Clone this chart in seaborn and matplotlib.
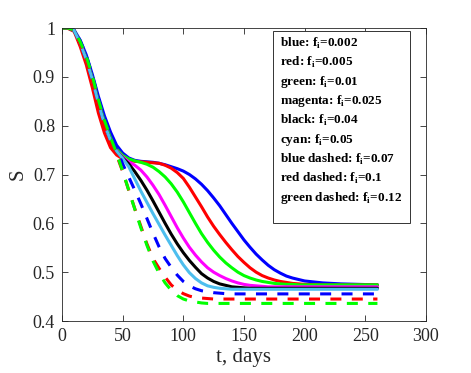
import matplotlib
matplotlib.use("Agg")
import matplotlib.pyplot as plt
import matplotlib.patches as mpatches
import seaborn as sns

# ---------------------------------------------------------------------------
# Data
# ---------------------------------------------------------------------------
t_days = [0, 5, 10, 15, 20, 25, 30, 35, 40, 45,
          50, 55, 60, 65, 70, 75, 80, 85, 90, 95,
          100, 105, 110, 115, 120, 125, 130, 135, 140, 145,
          150, 155, 160, 165, 170, 175, 180, 185, 190, 195,
          200, 215, 230, 245, 260]

s_blue = [1.000, 1.000, 0.996, 0.975, 0.945, 0.905, 0.860, 0.820, 0.787, 0.760,
          0.744, 0.734, 0.729, 0.727, 0.726, 0.725, 0.723, 0.720, 0.716, 0.712,
          0.707, 0.700, 0.691, 0.680, 0.667, 0.652, 0.636, 0.618, 0.600, 0.583,
          0.566, 0.551, 0.537, 0.525, 0.514, 0.505, 0.498, 0.492, 0.488, 0.485,
          0.482, 0.478, 0.476, 0.475, 0.474]
s_red = [1.000, 0.999, 0.993, 0.962, 0.925, 0.878, 0.826, 0.785, 0.755, 0.740,
         0.732, 0.729, 0.727, 0.726, 0.725, 0.724, 0.723, 0.719, 0.713, 0.704,
         0.692, 0.674, 0.654, 0.634, 0.613, 0.594, 0.577, 0.561, 0.546, 0.532,
         0.520, 0.509, 0.500, 0.493, 0.488, 0.484, 0.481, 0.479, 0.477, 0.476,
         0.475, 0.474, 0.474, 0.474, 0.474]
s_green = [1.000, 1.000, 0.995, 0.970, 0.938, 0.898, 0.850, 0.808, 0.775, 0.752,
           0.739, 0.732, 0.728, 0.725, 0.721, 0.715, 0.706, 0.695, 0.681, 0.664,
           0.644, 0.622, 0.600, 0.579, 0.561, 0.545, 0.531, 0.519, 0.509, 0.500,
           0.493, 0.488, 0.484, 0.481, 0.479, 0.477, 0.476, 0.475, 0.475, 0.474,
           0.474, 0.474, 0.474, 0.474, 0.474]
s_magenta = [1.000, 1.000, 0.995, 0.969, 0.936, 0.895, 0.846, 0.803, 0.770, 0.749,
             0.736, 0.726, 0.719, 0.709, 0.695, 0.678, 0.659, 0.637, 0.614, 0.591,
             0.570, 0.551, 0.535, 0.521, 0.509, 0.500, 0.493, 0.487, 0.482, 0.478,
             0.475, 0.473, 0.472, 0.471, 0.470, 0.470, 0.470, 0.470, 0.470, 0.470,
             0.470, 0.470, 0.470, 0.470, 0.470]
s_black = [1.000, 1.000, 0.995, 0.969, 0.936, 0.895, 0.846, 0.803, 0.770, 0.748,
           0.734, 0.722, 0.706, 0.688, 0.668, 0.646, 0.623, 0.600, 0.578, 0.558,
           0.540, 0.524, 0.510, 0.497, 0.488, 0.481, 0.476, 0.473, 0.470, 0.469,
           0.468, 0.467, 0.467, 0.467, 0.467, 0.467, 0.467, 0.467, 0.467, 0.467,
           0.467, 0.467, 0.467, 0.467, 0.467]
s_cyan = [1.000, 1.000, 0.995, 0.969, 0.936, 0.895, 0.846, 0.803, 0.770, 0.748,
          0.733, 0.716, 0.691, 0.666, 0.643, 0.620, 0.598, 0.576, 0.555, 0.534,
          0.515, 0.499, 0.487, 0.478, 0.472, 0.469, 0.467, 0.466, 0.465, 0.465,
          0.465, 0.465, 0.465, 0.465, 0.465, 0.465, 0.465, 0.465, 0.465, 0.465,
          0.465, 0.465, 0.465, 0.465, 0.465]
s_blue_d = [1.000, 1.000, 0.996, 0.974, 0.944, 0.903, 0.856, 0.815, 0.782, 0.752,
            0.722, 0.695, 0.668, 0.640, 0.610, 0.580, 0.552, 0.528, 0.510, 0.494,
            0.481, 0.472, 0.466, 0.462, 0.460, 0.458, 0.457, 0.456, 0.4555, 0.4555,
            0.4555, 0.4555, 0.4555, 0.4555, 0.4555, 0.4555, 0.4555, 0.4555, 0.4555, 0.4555,
            0.4555, 0.4555, 0.4555, 0.4555, 0.4555]
s_red_d = [1.000, 1.000, 0.995, 0.968, 0.935, 0.893, 0.843, 0.800, 0.767, 0.740,
           0.706, 0.668, 0.630, 0.594, 0.558, 0.528, 0.508, 0.490, 0.474, 0.463,
           0.456, 0.451, 0.448, 0.447, 0.446, 0.445, 0.445, 0.445, 0.445, 0.445,
           0.445, 0.445, 0.445, 0.445, 0.445, 0.445, 0.445, 0.445, 0.445, 0.445,
           0.445, 0.445, 0.445, 0.445, 0.445]
s_green_d = [1.000, 1.000, 0.996, 0.972, 0.942, 0.902, 0.853, 0.811, 0.776, 0.744,
             0.707, 0.668, 0.629, 0.591, 0.555, 0.523, 0.498, 0.478, 0.463, 0.452,
             0.445, 0.441, 0.439, 0.437, 0.436, 0.436, 0.436, 0.436, 0.436, 0.436,
             0.436, 0.436, 0.436, 0.436, 0.436, 0.436, 0.436, 0.436, 0.436, 0.436,
             0.436, 0.436, 0.436, 0.436, 0.436]

legend_lines = [
    ("blue", "0.002"), ("red", "0.005"), ("green", "0.01"),
    ("magenta", "0.025"), ("black", "0.04"), ("cyan", "0.05"),
    ("blue dashed", "0.07"), ("red dashed", "0.1"), ("green dashed", "0.12"),
]

# ---------------------------------------------------------------------------
# Style
# ---------------------------------------------------------------------------
sns.set_style("ticks")
plt.rcParams["font.family"] = ["Liberation Serif", "DejaVu Serif"]
plt.rcParams["mathtext.fontset"] = "custom"
plt.rcParams["mathtext.rm"] = "Liberation Serif"
plt.rcParams["mathtext.bf"] = "Liberation Serif:bold"

AX_GRAY = "#262626"
DASH = (0, (3.6, 3.4))
series = [
    (s_blue, "#0000ff", "-"), (s_red, "#ff0000", "-"), (s_green, "#00ff00", "-"),
    (s_magenta, "#ff00ff", "-"), (s_black, "#000000", "-"), (s_cyan, "#4dbeee", "-"),
    (s_blue_d, "#0000ff", DASH), (s_red_d, "#ff0000", DASH), (s_green_d, "#00ff00", DASH),
]

fig = plt.figure(figsize=(4.71, 3.73), dpi=100)
ax = fig.add_axes([0.1316, 0.1394, 0.7728, 0.7855])

for vals, col, ls in series:
    sns.lineplot(x=t_days, y=vals, ax=ax, color=col, linestyle=ls, lw=2.2,
                 estimator=None, sort=False)

ax.set_xlim(0, 300)
ax.set_ylim(0.4, 1.0)
ax.set_xticks([0, 50, 100, 150, 200, 250, 300])
ax.set_yticks([0.4, 0.5, 0.6, 0.7, 0.8, 0.9, 1.0])
ax.set_yticklabels(["0.4", "0.5", "0.6", "0.7", "0.8", "0.9", "1"])
ax.tick_params(direction="in", top=True, right=True, length=4, width=0.6,
               labelsize=13, colors=AX_GRAY, pad=5)
for sp in ax.spines.values():
    sp.set_color(AX_GRAY)
    sp.set_linewidth(0.6)
ax.set_xlabel("t, days", fontsize=15, color=AX_GRAY, labelpad=2)
ax.set_ylabel("S", fontsize=15, color=AX_GRAY, labelpad=4)

# text box in the upper right
ax.add_patch(mpatches.Rectangle((0.580, 0.334), 0.376, 0.656, transform=ax.transAxes,
                                facecolor="white", edgecolor="#333333", lw=0.7, zorder=5))
for i, (name, val) in enumerate(legend_lines):
    ax.text(0.599, 0.948 - i * 0.0659, name + r": f$_\mathbf{i}$=" + val,
            transform=ax.transAxes, fontsize=9.5, fontweight="bold", color="black",
            va="center", ha="left", zorder=6)

fig.savefig("out.png", dpi=100)
